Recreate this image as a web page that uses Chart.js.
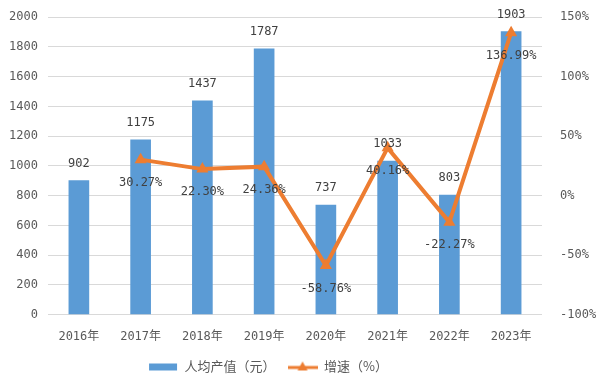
<!DOCTYPE html>
<html>
<head>
<meta charset="utf-8">
<script src="https://cdn.jsdelivr.net/npm/chart.js@4.4.1/dist/chart.umd.min.js"></script>
<style>
  html, body { margin: 0; padding: 0; background: #fff; }
  #wrap { width: 600px; height: 386px; }
</style>
</head>
<body>
<div id="wrap"><canvas id="chart"></canvas></div>
<script>
// Data
const years = ['2016年', '2017年', '2018年', '2019年', '2020年', '2021年', '2022年', '2023年'];
const perCapita = [902, 1175, 1437, 1787, 737, 1033, 803, 1903];
const growth = [null, 30.27, 22.30, 24.36, -58.76, 40.16, -22.27, 136.99];
const leftTicks = [0, 200, 400, 600, 800, 1000, 1200, 1400, 1600, 1800, 2000];
const rightTicks = [-100, -50, 0, 50, 100, 150];

const BLUE = '#5B9BD5';
const ORANGE = '#ED7D31';
const numFont = "'DejaVu Sans Mono', 'Noto Sans CJK SC', monospace";

// legend swatches
function swatch(kind) {
    const c = document.createElement('canvas');
    c.width = 30; c.height = 14;
    const g = c.getContext('2d');
    if (kind === 'bar') {
        g.fillStyle = BLUE;
        g.fillRect(1, 4, 28, 7);
    } else {
        g.strokeStyle = ORANGE;
        g.lineWidth = 3;
        g.beginPath(); g.moveTo(0, 8); g.lineTo(30, 8); g.stroke();
        g.fillStyle = ORANGE;
        g.beginPath(); g.moveTo(15, 2); g.lineTo(20, 11); g.lineTo(10, 11); g.closePath(); g.fill();
    }
    return c;
}

// value labels drawn at the elements' positions
const valueLabels = {
    id: 'valueLabels',
    afterDatasetsDraw(chart) {
        const ctx = chart.ctx;
        ctx.save();
        ctx.font = '12px ' + numFont;
        ctx.fillStyle = '#404040';
        ctx.textAlign = 'center';
        ctx.textBaseline = 'middle';
        chart.getDatasetMeta(0).data.forEach((bar, i) => {
            ctx.fillText(String(perCapita[i]), bar.x, bar.y - 17);
        });
        chart.getDatasetMeta(1).data.forEach((pt, i) => {
            if (growth[i] === null) return;
            ctx.fillText(growth[i].toFixed(2) + '%', pt.x, pt.y + 23);
        });
        ctx.restore();
    }
};

// the legend sits a bit left of centre and a little higher in the original
const legendShift = {
    id: 'legendShift',
    afterLayout(chart) {
        chart.legend.left -= 32;
        chart.legend.right -= 32;
        chart.legend.top -= 3;
        chart.legend.bottom -= 3;
    }
};

new Chart(document.getElementById('chart'), {
    data: {
        labels: years,
        datasets: [
            {
                type: 'bar',
                label: '人均产值（元）',
                data: perCapita,
                backgroundColor: BLUE,
                barThickness: 20,
                yAxisID: 'y',
                order: 2
            },
            {
                type: 'line',
                label: '增速（%）',
                data: growth,
                borderColor: ORANGE,
                backgroundColor: ORANGE,
                borderWidth: 4,
                pointStyle: 'triangle',
                pointRadius: 7,
                pointHoverRadius: 7,
                pointBorderWidth: 0,
                tension: 0,
                yAxisID: 'y1',
                order: 1
            }
        ]
    },
    options: {
        responsive: true,
        maintainAspectRatio: false,
        animation: false,
        layout: { padding: { top: 5, left: 0, right: 0, bottom: 0 } },
        scales: {
            x: {
                grid: { display: false },
                border: { display: false },
                ticks: { color: '#595959', font: { size: 12, family: numFont }, padding: 7 }
            },
            y: {
                position: 'left',
                min: 0, max: 2000,
                afterBuildTicks: axis => { axis.ticks = leftTicks.map(v => ({ value: v })); },
                afterFit: axis => { axis.width = 48; },
                grid: { color: '#d9d9d9', lineWidth: 1, drawTicks: false },
                border: { display: false },
                ticks: {
                    color: '#595959', font: { size: 12, family: numFont }, padding: 10,
                    callback: v => String(v)
                }
            },
            y1: {
                position: 'right',
                min: -100, max: 150,
                afterBuildTicks: axis => { axis.ticks = rightTicks.map(v => ({ value: v })); },
                afterFit: axis => { axis.width = 58; },
                grid: { display: false },
                border: { display: false },
                ticks: {
                    color: '#595959', font: { size: 12, family: numFont }, padding: 10,
                    callback: v => v + '%'
                }
            }
        },
        plugins: {
            tooltip: { enabled: false },
            legend: {
                position: 'bottom',
                labels: {
                    usePointStyle: true,
                    pointStyleWidth: 30,
                    color: '#595959',
                    font: { size: 13, family: "'Noto Sans CJK SC', sans-serif" },
                    padding: 12,
                    generateLabels: chart => chart.data.datasets.map((ds, i) => ({
                        text: ds.label,
                        pointStyle: swatch(ds.type),
                        fillStyle: ds.backgroundColor,
                        strokeStyle: ds.borderColor,
                        lineWidth: 0,
                        fontColor: '#595959',
                        hidden: false,
                        datasetIndex: i
                    }))
                }
            }
        }
    },
    plugins: [valueLabels, legendShift]
});
</script>
</body>
</html>
